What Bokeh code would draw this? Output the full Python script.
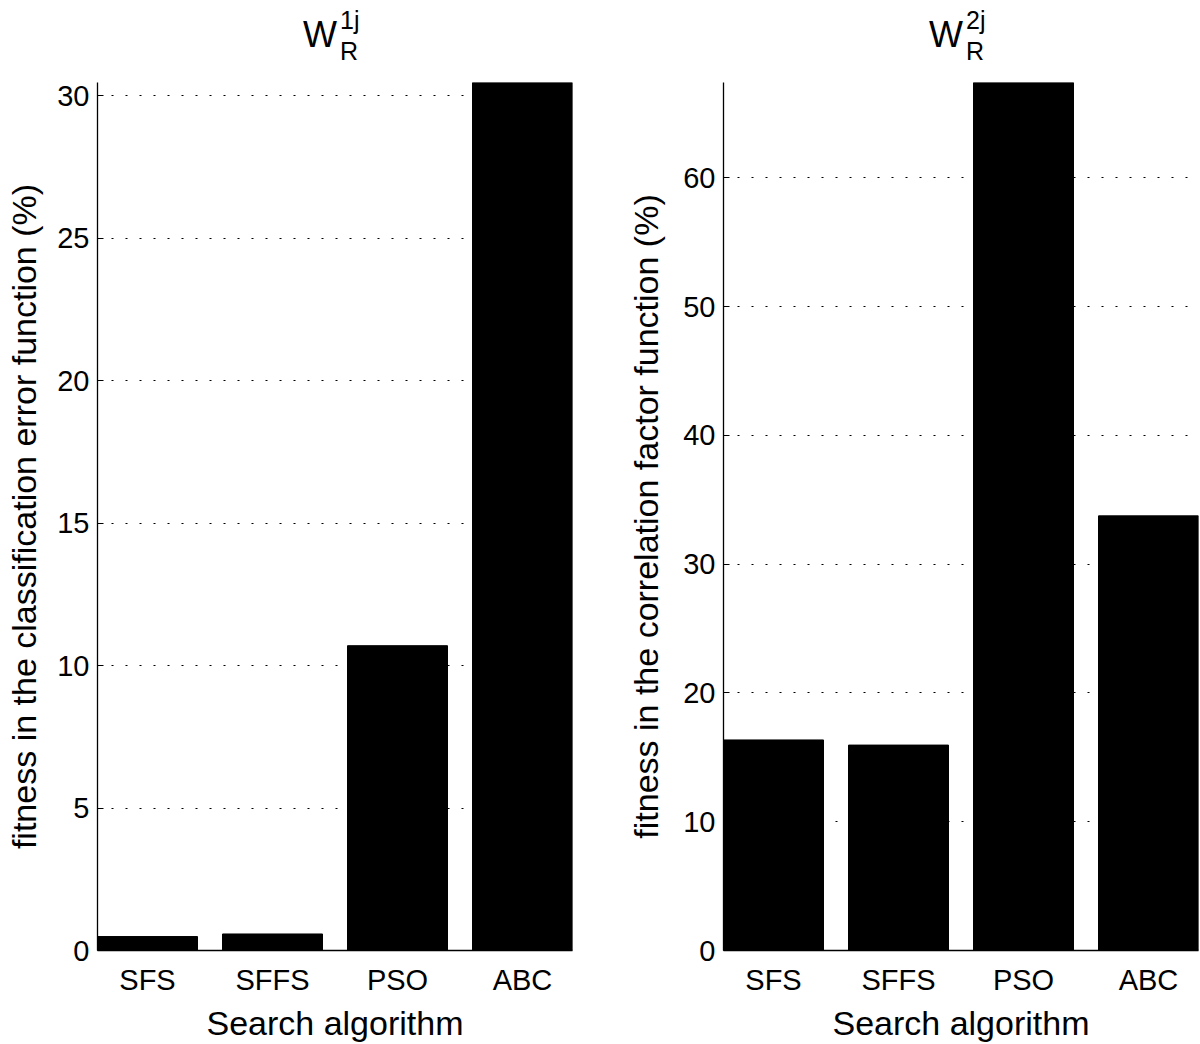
from bokeh.plotting import figure
from bokeh.models import Range1d, FixedTicker
from bokeh.layouts import row, column
from bokeh.core.properties import value
from bokeh.embed import file_html
from bokeh.resources import INLINE

# ---- data ----
categories = ["SFS", "SFFS", "PSO", "ABC"]
fitness_classification = [0.49, 0.58, 10.7, 30.47]
fitness_correlation = [16.35, 15.95, 67.4, 33.75]
yticks_left = [0, 5, 10, 15, 20, 25, 30]
yticks_right = [0, 10, 20, 30, 40, 50, 60]
ylabel_left = "fitness in the classification error function (%)"
ylabel_right = "fitness in the correlation factor function (%)"
xlabel = "Search algorithm"
title_main = "W"
title_sup = ["1j", "2j"]
title_sub = "R"

FONT = "Liberation Sans"
TITLE_H = 72
PLOT_TOP = 10
PLOT_H = 1044 - TITLE_H


def make(values, yticks, ylabel, sup, width, border_left, border_right, ylabel_standoff):
    xs = list(range(1, len(categories) + 1))
    xr = Range1d(0.6, len(categories) + 0.4)

    # title strip (W with superscript / subscript)
    t = figure(width=width, height=TITLE_H, x_range=xr, y_range=Range1d(0, TITLE_H),
               output_backend="svg", toolbar_location=None,
               min_border_left=border_left, min_border_right=border_right,
               min_border_top=0, min_border_bottom=0)
    t.axis.visible = False
    t.grid.visible = False
    t.outline_line_color = None
    xc = (len(categories) + 1) / 2
    t.text(x=[xc], y=[38], text=[title_main], text_align="right",
           text_baseline="alphabetic", x_offset=2,
           text_font=value(FONT), text_font_size="36px", text_color="black")
    t.text(x=[xc], y=[53], text=[sup], text_align="left",
           text_baseline="alphabetic", x_offset=5,
           text_font=value(FONT), text_font_size="25px", text_color="black")
    t.text(x=[xc], y=[22], text=[title_sub], text_align="left",
           text_baseline="alphabetic", x_offset=5,
           text_font=value(FONT), text_font_size="25px", text_color="black")

    p = figure(width=width, height=PLOT_H, x_range=xr,
               y_range=Range1d(0, max(values)),
               output_backend="svg", toolbar_location=None,
               min_border_left=border_left, min_border_right=border_right,
               min_border_top=PLOT_TOP, min_border_bottom=94)
    p.vbar(x=xs, top=values, bottom=0, width=0.8,
           fill_color="black", line_color="black", line_width=1)

    p.outline_line_color = None
    p.background_fill_color = "white"
    p.border_fill_color = "white"

    p.xgrid.grid_line_color = None
    p.ygrid.grid_line_color = "black"
    p.ygrid.grid_line_width = 1.2
    p.ygrid.grid_line_dash = "2 12"
    p.ygrid.ticker = FixedTicker(ticks=yticks)

    p.xaxis.ticker = FixedTicker(ticks=xs)
    p.xaxis.major_label_overrides = {x: c for x, c in zip(xs, categories)}
    p.yaxis.ticker = FixedTicker(ticks=yticks)

    for ax in (p.xaxis[0], p.yaxis[0]):
        ax.axis_line_color = "black"
        ax.axis_line_width = 1.3
        ax.major_tick_in = 6
        ax.major_tick_out = 0
        ax.major_tick_line_color = "black"
        ax.minor_tick_line_color = None
        ax.major_label_text_font = FONT
        ax.major_label_text_font_size = "29px"
        ax.major_label_text_color = "black"
        ax.axis_label_text_font = FONT
        ax.axis_label_text_font_size = "34px"
        ax.axis_label_text_font_style = "normal"
        ax.axis_label_text_color = "black"

    p.xaxis.axis_label = xlabel
    p.xaxis.major_label_standoff = 13
    p.xaxis.axis_label_standoff = 5
    p.yaxis.axis_label = ylabel
    p.yaxis.major_label_standoff = 8
    p.yaxis.axis_label_standoff = ylabel_standoff
    return column(t, p)


c1 = make(fitness_classification, yticks_left, ylabel_left, title_sup[0],
          width=600, border_left=97, border_right=28, ylabel_standoff=11)
c2 = make(fitness_correlation, yticks_right, ylabel_right, title_sup[1],
          width=600, border_left=123, border_right=2, ylabel_standoff=15)

layout = row(c1, c2)
open("out.html", "w").write(file_html(layout, INLINE))
